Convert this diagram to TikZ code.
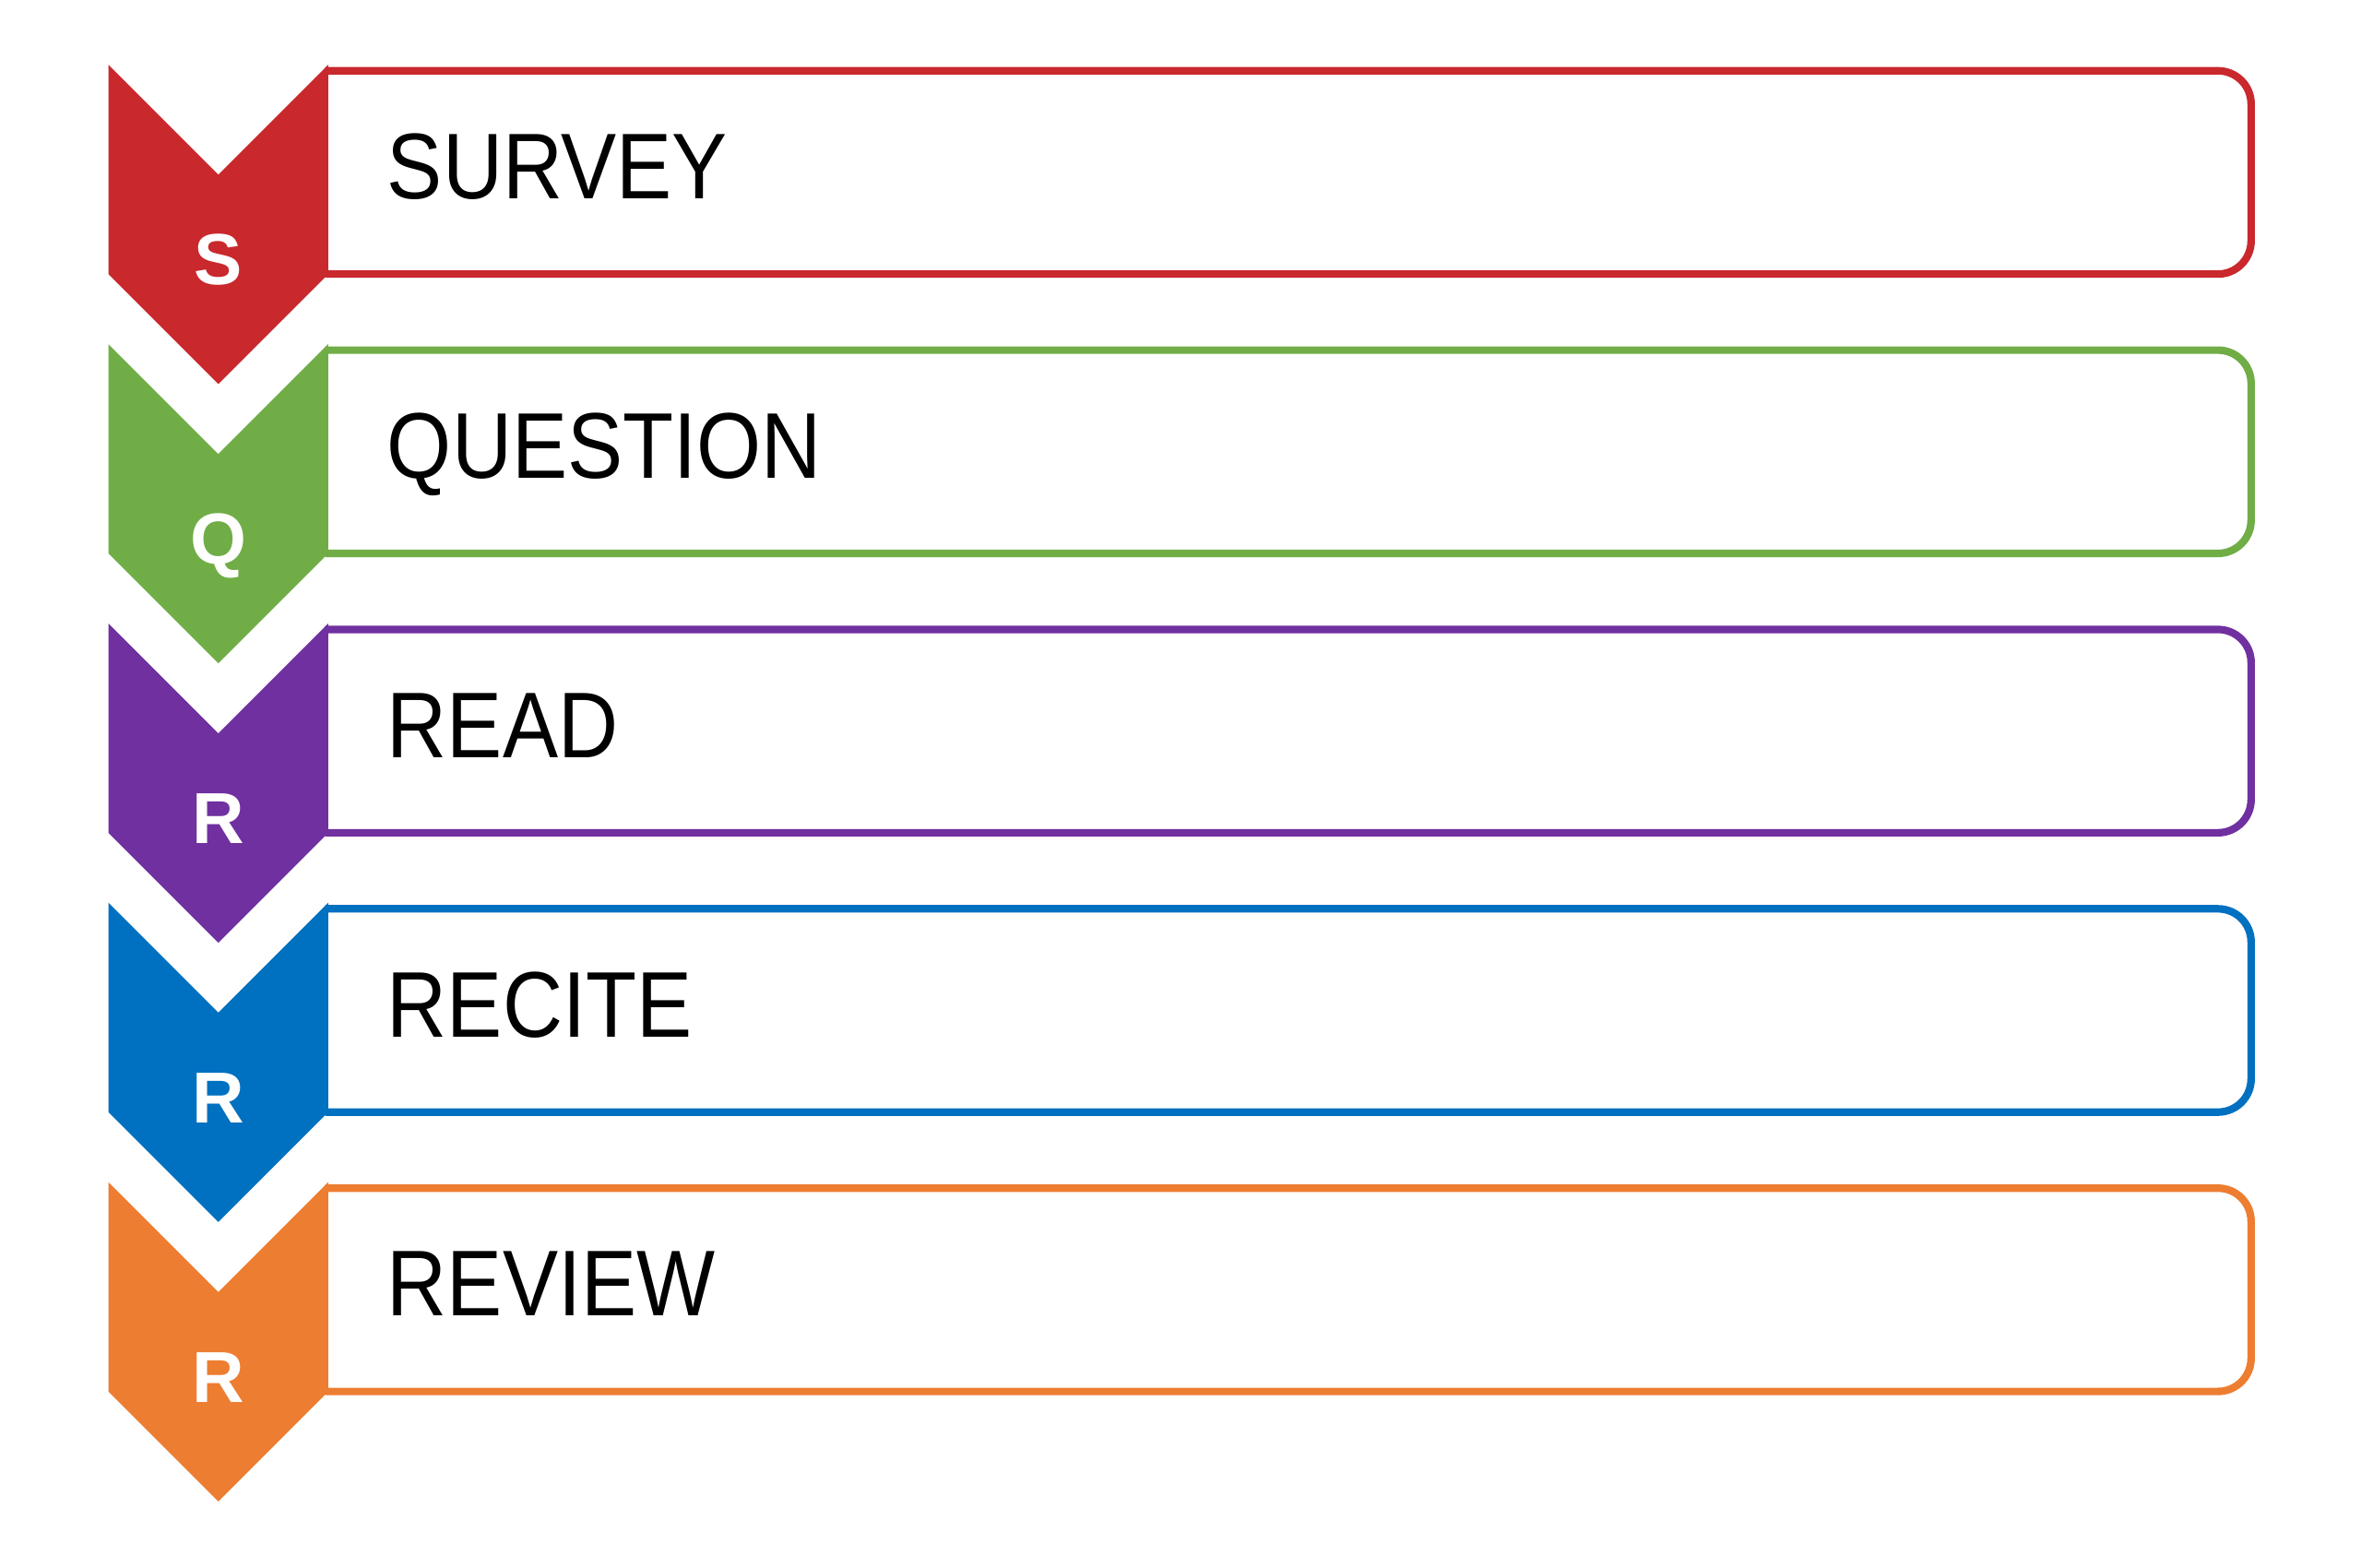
\documentclass[tikz,border=0pt]{standalone}
\usepackage{fontspec}
\setmainfont{Liberation Sans}
\newfontfamily\wordfont[FakeStretch=0.89]{Liberation Sans}
\usepackage{tikz}
\usetikzlibrary{positioning}

\definecolor{surveyred}{HTML}{C9282D}
\definecolor{questgreen}{HTML}{70AD47}
\definecolor{readpurple}{HTML}{7030A0}
\definecolor{reciteblue}{HTML}{0070C0}
\definecolor{revieworange}{HTML}{ED7D31}

\begin{document}
\begin{tikzpicture}[x=1pt,y=-1pt,
    rowbox/.style={line width=5pt, rounded corners=22pt},
    rowword/.style={anchor=base west, inner sep=0pt, font=\wordfont\fontsize{62}{62}\selectfont},
    rowletter/.style={anchor=base, inner sep=0pt, text=white, font=\fontsize{48}{48}\selectfont\bfseries}]
  \useasboundingbox (0,0) rectangle (1568,1041);
  \def\gap{185.5} % distance between two rows
  % one chevron and one box per row
  \foreach \i/\col/\ltr/\word in {0/surveyred/S/SURVEY, 1/questgreen/Q/QUESTION,
      2/readpurple/R/READ, 3/reciteblue/R/RECITE, 4/revieworange/R/REVIEW} {
    \pgfmathsetmacro\rowtop{43+\gap*\i}
    \draw[rowbox, \col] (216,\rowtop+4) -- (1495,\rowtop+4) -- (1495,\rowtop+139) -- (216,\rowtop+139);
    \fill[\col] (72,\rowtop) -- (145,\rowtop+73) -- (218,\rowtop) -- (218,\rowtop+139)
      -- (145,\rowtop+212) -- (72,\rowtop+139) -- cycle;
    \node[rowletter] (letter\i) at (145,\rowtop+146) {\ltr};
    \node[rowword] (word\i) at (257,\rowtop+89) {\word};
  }
\end{tikzpicture}
\end{document}
